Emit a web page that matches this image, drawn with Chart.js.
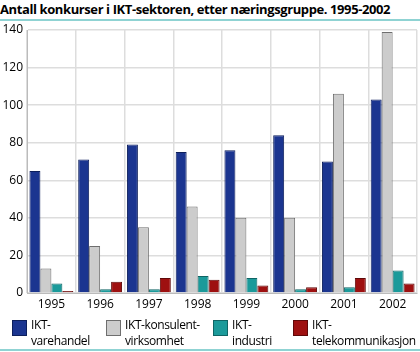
<!DOCTYPE html>
<html>
<head>
<meta charset="utf-8">
<script src="https://cdn.jsdelivr.net/npm/chart.js@4"></script>
<style>
  body { margin: 0; background: #fff; }
  #wrap { position: relative; width: 420px; height: 352px; overflow: hidden; font-family: "Open Sans", sans-serif; color: #000; }
  #title { position: absolute; left: 0; top: 0; width: 420px; font-weight: bold; font-size: 13px; line-height: 18px; letter-spacing: -0.4px; white-space: nowrap; }
  .rule { position: absolute; left: 0; width: 420px; height: 2px; background: #8fd3d3; }
  canvas { position: absolute; left: 0; top: 0; }
  .item { position: absolute; top: 319px; font-size: 12px; line-height: 16px; letter-spacing: -0.4px; }
  .box { position: absolute; width: 15px; height: 16px; box-sizing: border-box; border: 1px solid #333; }
  .txt { position: absolute; white-space: nowrap; }
</style>
</head>
<body>
<div id="wrap">
  <div id="title">Antall konkurser i IKT-sektoren, etter næringsgruppe. 1995-2002</div>
  <div class="rule" style="top:19px"></div>
  <canvas id="myChart" width="420" height="352"></canvas>
  <div id="legend"></div>
  <div class="rule" style="top:349px"></div>
</div>
<script>
const years = ['1995', '1996', '1997', '1998', '1999', '2000', '2001', '2002'];
const seriesNames = [
  ['IKT-', 'varehandel'],
  ['IKT-konsulent-', 'virksomhet'],
  ['IKT-', 'industri'],
  ['IKT-', 'telekommunikasjon']
];
const varehandel = [65, 71, 79, 75, 76, 84, 70, 103];
const konsulent = [13, 25, 35, 46, 40, 40, 106, 139];
const industri = [5, 2, 2, 9, 8, 2, 3, 12];
const telekom = [1, 6, 8, 7, 4, 3, 8, 5];
const yTicks = [0, 20, 40, 60, 80, 100, 120, 140];

const fills = ['#1b3590', '#cccccc', '#1b9a9a', '#9e1010'];
const borders = ['#0d1f5c', '#6e6e6e', '#0f6464', '#5e0808'];
const values = [varehandel, konsulent, industri, telekom];

const data = {
  labels: years,
  datasets: values.map((v, i) => ({
    label: seriesNames[i].join(' '),
    data: v,
    backgroundColor: fills[i],
    borderColor: borders[i],
    borderWidth: 1,
    categoryPercentage: 0.9,
    barPercentage: 1.0
  }))
};

const config = {
  type: 'bar',
  data: data,
  options: {
    responsive: false,
    animation: false,
    layout: {
      padding: { top: 30, bottom: 39, left: 0, right: 3 }
    },
    plugins: {
      legend: { display: false },
      tooltip: { enabled: false }
    },
    scales: {
      x: {
        grid: { color: '#dddddd', lineWidth: 1.5, drawTicks: false, offset: true },
        border: { color: '#bbbbbb' },
        ticks: { color: '#000', font: { family: 'Open Sans', size: 12 }, padding: 4 },
        afterFit: (scale) => { scale.height = 20; }
      },
      y: {
        min: 0,
        max: 140,
        afterBuildTicks: (scale) => { scale.ticks = yTicks.map(v => ({ value: v })); },
        grid: { color: '#dddddd', lineWidth: 1.5, drawTicks: false },
        border: { color: '#bbbbbb' },
        ticks: { color: '#000', font: { family: 'Open Sans', size: 12 }, padding: 4 },
        afterFit: (scale) => { scale.width = 27; }
      }
    }
  }
};

var myChart = new Chart(document.getElementById('myChart'), config);

// legend laid out like the original, four columns with two-line labels
const legendX = [12, 106, 213, 293];
const legend = document.getElementById('legend');
seriesNames.forEach((name, i) => {
  const item = document.createElement('div');
  item.className = 'item';
  item.style.left = legendX[i] + 'px';
  item.innerHTML = '<div class="box" style="left:0;top:1px;background:' + fills[i] + ';border-color:' + borders[i] + '"></div>' +
    '<div class="txt" style="left:19px;top:-2px">' + name.join('<br>') + '</div>';
  legend.appendChild(item);
});
</script>
</body>
</html>
